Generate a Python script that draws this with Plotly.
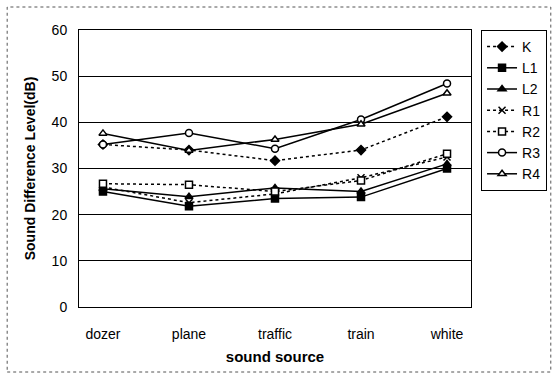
import plotly.graph_objects as go

categories = ["dozer", "plane", "traffic", "train", "white"]
K  = [35.2, 34.0, 31.7, 34.0, 41.2]
L1 = [25.0, 21.8, 23.5, 23.8, 30.0]
L2 = [25.6, 23.9, 25.8, 25.0, 31.0]
R1 = [26.0, 22.6, 24.5, 28.0, 32.5]
R2 = [26.7, 26.5, 25.0, 27.4, 33.2]
R3 = [35.2, 37.7, 34.3, 40.6, 48.4]
R4 = [37.6, 33.9, 36.3, 39.6, 46.3]

# name, values, dash, symbol, fill
series = [
    ("K", K, "dot", "diamond", "black"),
    ("L1", L1, "solid", "square", "black"),
    ("L2", L2, "solid", "triangle-up", "black"),
    ("R1", R1, "dot", "x-thin", "black"),
    ("R2", R2, "dot", "square", "white"),
    ("R3", R3, "solid", "circle", "white"),
    ("R4", R4, "solid", "triangle-up", "white"),
]

fig = go.Figure()
for name, vals, dash, sym, fill in series:
    fig.add_trace(go.Scatter(
        x=categories, y=vals, name=name, mode="lines+markers",
        line=dict(color="black", width=1.5, dash=dash),
        marker=dict(symbol=sym, size=7, color=fill,
                    line=dict(color="black", width=1.5)),
    ))

fig.update_layout(
    width=558, height=378,
    margin=dict(l=79, r=86, t=30, b=71),
    paper_bgcolor="white", plot_bgcolor="white",
    font=dict(family="Liberation Sans, Arial, sans-serif", size=14, color="black"),
    showlegend=True,
    legend=dict(x=1.023, y=1, xanchor="left", yanchor="top",
                bordercolor="black", borderwidth=1, font=dict(size=14),
                tracegroupgap=0, itemwidth=30),
    xaxis=dict(
        title=dict(text="<b>sound source</b>", font=dict(size=15), standoff=10),
        showline=True, linecolor="black", linewidth=1, mirror=True,
        showgrid=False, ticks="", tickfont=dict(size=14), ticklabelstandoff=14,
    ),
    yaxis=dict(
        title=dict(text="<b>Sound Difference Level(dB)</b>", font=dict(size=14), standoff=12),
        range=[0, 60], dtick=10,
        showline=True, linecolor="black", linewidth=1, mirror=True,
        showgrid=True, gridcolor="black", gridwidth=1,
        ticks="", tickfont=dict(size=14), zeroline=False, ticklabelstandoff=8,
    ),
    shapes=[dict(type="rect", xref="paper", yref="paper",
                 x0=-72/393, x1=(552-79)/393, y0=-(372-307)/277, y1=1+(30-7)/277,
                 line=dict(color="#555", width=1, dash="dot"))],
)

fig.write_html("out.html")
